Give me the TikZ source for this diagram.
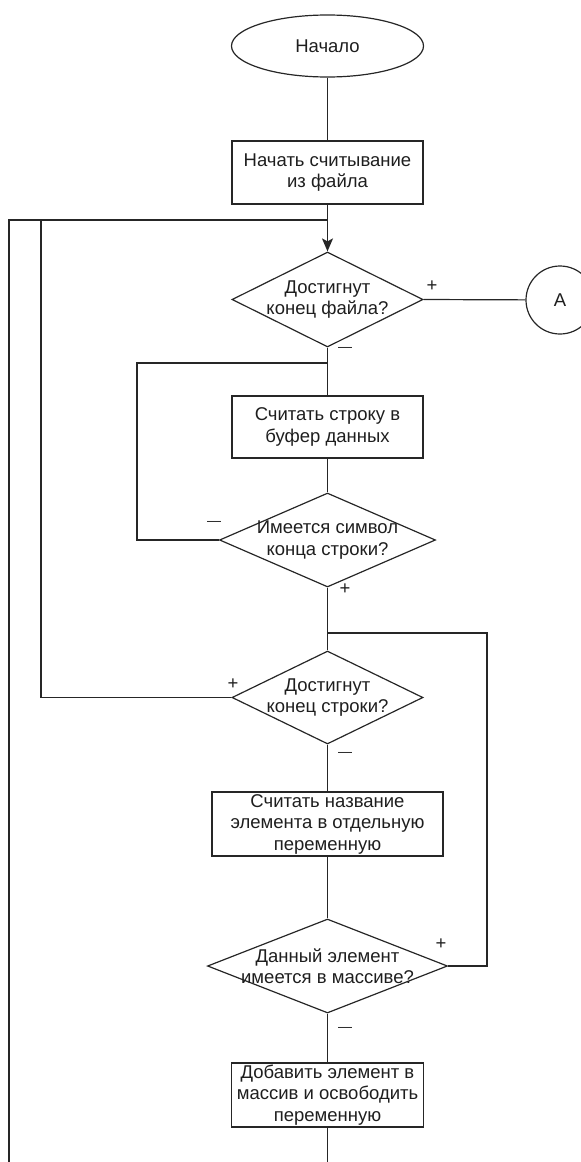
\documentclass[tikz,border=0pt]{standalone}
\usepackage{fontspec}
\setmainfont{Liberation Sans}
\usetikzlibrary{shapes.geometric,arrows.meta}
\definecolor{lc}{HTML}{262626}
\definecolor{txt}{HTML}{1E1E1E}
\begin{document}
\begin{tikzpicture}[x=1pt,y=-1pt,
  every node/.style={font=\fontsize{18.5}{21.5}\selectfont, text=txt},
  ln/.style={draw=lc, line width=1.2pt},
  box/.style={ln, rectangle, inner sep=0pt, align=center},
  dia/.style={ln, diamond, inner sep=0pt},
  dtext/.style={inner sep=0pt, align=center},
  plus/.style={inner sep=0pt, anchor=base},
  minus/.style={inner sep=0pt, anchor=base, font=\fontsize{14}{14}\selectfont},
]
\useasboundingbox (0,0) rectangle (581,1162);
\clip (0,0) rectangle (581,1162);

% nodes
\node[ln, ellipse, minimum width=192pt, minimum height=62pt, inner sep=0pt] (start) at (327.5,46) {Начало};
\node[box, minimum width=191pt, minimum height=63pt] (b1) at (327.5,172.5) {Начать считывание\\из файла};
\node[dia, minimum width=191pt, minimum height=95pt] (d1) at (327.5,299.5) {};
\node[dtext] (d1t) at (d1.center) {Достигнут\\конец файла?};
\node[ln, circle, minimum size=68pt, inner sep=0pt] (A) at (560,300) {A};
\node[box, minimum width=191pt, minimum height=62pt] (b2) at (327.5,427) {Считать строку в\\буфер данных};
\node[dia, minimum width=216pt, minimum height=94pt] (d2) at (327.5,540) {};
\node[dtext] (d2t) at (d2.center) {Имеется символ\\конца строки?};
\node[dia, minimum width=191pt, minimum height=93pt] (d3) at (327.5,697.5) {};
\node[dtext] (d3t) at (d3.center) {Достигнут\\конец строки?};
\node[box, minimum width=231pt, minimum height=64pt] (b3) at (327.5,824) {Считать название\\элемента в отдельную\\переменную};
\node[dia, minimum width=240pt, minimum height=94pt] (d4) at (327.5,966) {};
\node[dtext] (d4t) at (d4.center) {Данный элемент\\имеется в массиве?};
\node[box, minimum width=192pt, minimum height=64pt] (b4) at (327.5,1095) {Добавить элемент в\\массив и освободить\\переменную};

% coordinates
\coordinate (j1) at (327.5,220);
\coordinate (l1t) at (9,220);
\coordinate (l1b) at (9,1175);
\coordinate (l2t) at (41,220);
\coordinate (j2) at (327.5,363);
\coordinate (l3) at (137,363);
\coordinate (j3) at (327.5,633);
\coordinate (r1) at (487,633);
\coordinate (e2) at (327.5,1175);

% connectors
\draw[ln] (start) -- (b1);
\draw[ln] (b1) -- (j1);
\draw[ln, -{Stealth[length=13pt,width=11pt,inset=3pt]}] (j1) -- (d1.north);
\draw[ln] (l1b) -- (l1t) -- (j1);
\draw[ln] (d3.west) -| (l2t);
\draw[ln] (d1.east) -- (A);
\draw[ln] (d1.south) -- (b2.north);
\draw[ln] (d2.west) -| (l3) -- (j2);
\draw[ln] (b2.south) -- (d2.north);
\draw[ln] (d2.south) -- (d3.north);
\draw[ln] (j3) -- (r1) |- (d4.east);
\draw[ln] (d3.south) -- (b3.north);
\draw[ln] (b3.south) -- (d4.north);
\draw[ln] (d4.south) -- (b4.north);
\draw[ln] (b4.south) -- (e2);

% branch labels
\node[plus] (p1) at (432,291.5) {+};
\node[minus] (m1) at (345,351) {—};
\node[minus] (m2) at (214,525) {—};
\node[plus] (p2) at (345,594.5) {+};
\node[plus] (p3) at (233,689.5) {+};
\node[minus] (m3) at (345,756) {—};
\node[plus] (p4) at (441,949.5) {+};
\node[minus] (m4) at (345,1031) {—};
\end{tikzpicture}
\end{document}
